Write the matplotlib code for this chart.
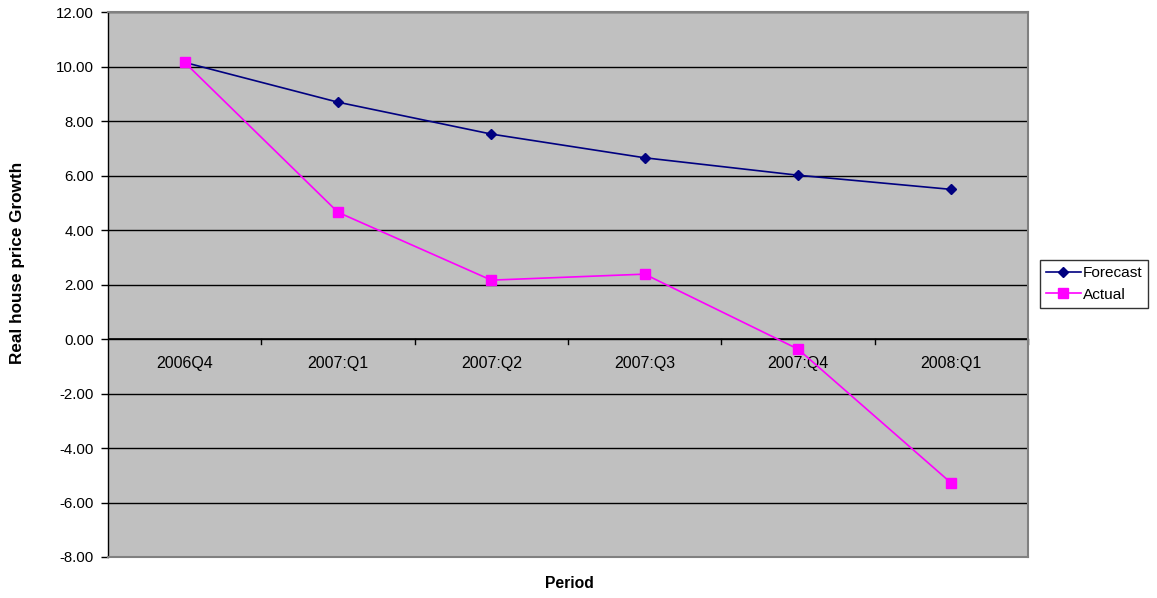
import matplotlib
matplotlib.use("Agg")
import matplotlib.pyplot as plt
from matplotlib.ticker import FormatStrFormatter, FixedLocator

plt.rcParams['font.family'] = ['Liberation Sans', 'DejaVu Sans']

periods = ["2006Q4", "2007:Q1", "2007:Q2", "2007:Q3", "2007:Q4", "2008:Q1"]
forecast = [10.15, 8.69, 7.52, 6.65, 6.01, 5.49]
actual = [10.15, 4.65, 2.16, 2.38, -0.37, -5.29]

fig = plt.figure(figsize=(11.57, 5.98), dpi=100)
ax = fig.add_axes([108 / 1157, 1 - 557 / 598, 920 / 1157, 545 / 598])
ax.set_facecolor("#C0C0C0")

x = list(range(len(periods)))
ax.plot(x, forecast, color="#000080", marker="D", markersize=5, linewidth=1.2,
        label="Forecast", zorder=4)
ax.plot(x, actual, color="#FF00FF", marker="s", markersize=7, linewidth=1.2,
        label="Actual", zorder=4)

ax.set_xlim(-0.5, len(periods) - 0.5)
ax.set_ylim(-8, 12)
ax.yaxis.set_major_locator(FixedLocator(range(-8, 13, 2)))
ax.yaxis.set_major_formatter(FormatStrFormatter("%.2f"))
ax.grid(axis="y", color="black", linewidth=1, zorder=1)
ax.set_axisbelow(True)

# category axis drawn along the zero line
ax.set_xticks([])
ax.axhline(0, color="black", linewidth=1.2, zorder=2)
for b in [i + 0.5 for i in x]:
    ax.plot([b, b], [0, -0.18], color="black", linewidth=1, zorder=2, clip_on=False)
for xi, lab in zip(x, periods):
    ax.text(xi, -0.62, lab, ha="center", va="top", fontsize=11.5, color="black")

for side in ["top", "right", "bottom"]:
    ax.spines[side].set_color("#808080")
    ax.spines[side].set_linewidth(1.5)
ax.spines["left"].set_color("black")
ax.spines["left"].set_linewidth(1)
ax.tick_params(axis="y", direction="out", length=5, width=1, labelsize=10.8, pad=5)

fig.text(18 / 1157, 1 - 263 / 598, "Real house price Growth", rotation=90,
         ha="center", va="center", fontsize=12.3, fontweight="bold")
fig.text(569 / 1157, 1 - 584 / 598, "Period", ha="center", va="center",
         fontsize=11.3, fontweight="bold")

leg = fig.legend(loc="center left", bbox_to_anchor=(1040 / 1157, 1 - 284 / 598),
                 fontsize=11.1, frameon=True, fancybox=False, edgecolor="black",
                 handlelength=2.25, handletextpad=0.15, borderpad=0.38, labelspacing=0.5,
                 borderaxespad=0)
leg.get_frame().set_linewidth(1)

fig.savefig("out.png", dpi=100, facecolor="white")
